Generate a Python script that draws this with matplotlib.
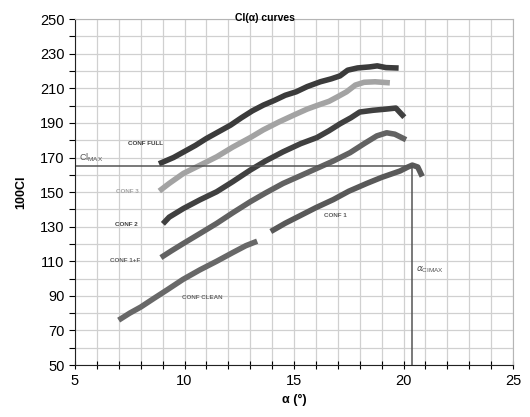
import numpy as np
import matplotlib.pyplot as plt
from matplotlib.ticker import MultipleLocator

plt.rcParams['font.family'] = ['Liberation Sans', 'DejaVu Sans']

# curves (alpha in deg, 100*Cl)
full_a = [8.95, 9.5, 10.0, 10.5, 11.0, 11.5, 12.1, 12.6, 13.1, 13.6, 14.1, 14.6, 15.1, 15.6, 16.2, 16.7, 17.1, 17.45, 17.9, 18.45, 18.8, 19.2, 19.65]
full_c = [167, 170, 173.5, 177, 181, 184.5, 188.7, 193, 197, 200.3, 203, 206, 208, 211, 213.8, 215.5, 217.2, 220.5, 221.8, 222.4, 223, 222, 221.8]

c3_a = [8.95, 9.3, 9.95, 10.7, 11.47, 12.2, 13.0, 13.6, 14.3, 15.0, 15.6, 16.1, 16.6, 17.0, 17.4, 17.8, 18.2, 18.7, 19.25]
c3_c = [151.6, 155, 160.8, 165.5, 170.4, 176, 181.5, 186, 190.5, 194.6, 198, 200.3, 202.5, 205.2, 208, 211.9, 213.5, 213.8, 213.3]

c2_a = [9.1, 9.3, 9.95, 10.7, 11.47, 12.2, 13.0, 13.7, 14.5, 15.3, 16.04, 16.6, 17.1, 17.6, 18.0, 18.6, 19.2, 19.65, 19.95]
c2_c = [132.8, 135.5, 140.5, 145.5, 150.2, 156, 162.7, 168, 173.3, 178, 181.5, 185.5, 189.5, 193, 196.3, 197.3, 198, 198.6, 194.5]

c1f_a = [9.03, 9.4, 9.95, 10.7, 11.47, 12.2, 13.0, 13.7, 14.5, 15.3, 16.04, 16.8, 17.56, 18.2, 18.78, 19.23, 19.6, 20.0]
c1f_c = [113, 116, 120.3, 126, 131.9, 138, 144.4, 149.5, 155, 159.5, 163.7, 168, 172.8, 178, 182.5, 184.3, 183.5, 181]

c1_a = [14.05, 14.6, 15.27, 16.0, 16.8, 17.5, 18.32, 19.0, 19.84, 20.2, 20.4, 20.65, 20.8]
c1_c = [128, 132, 136.3, 141, 145.7, 150.5, 155, 158.5, 162.2, 164.5, 165.6, 164.5, 160.5]

clean_a = [7.1, 7.5, 8.0, 8.6, 9.2, 9.93, 10.7, 11.47, 12.2, 12.8, 13.2]
clean_c = [76.8, 80, 83.5, 88.5, 93.4, 99.5, 105, 110, 115, 119, 121]

cl_max = 165
a_clmax = 20.4

fig = plt.figure(figsize=(5.3, 4.17), dpi=100)
ax = fig.add_axes([0.1415, 0.1247, 0.8265, 0.8293])

ax.plot(full_a, full_c, color='#3b3b3b', lw=4)
ax.plot(c3_a, c3_c, color='#a3a3a3', lw=4)
ax.plot(c2_a, c2_c, color='#404040', lw=4)
ax.plot(c1f_a, c1f_c, color='#626262', lw=4)
ax.plot(c1_a, c1_c, color='#595959', lw=4)
ax.plot(clean_a, clean_c, color='#686868', lw=4)

# Cl max reference lines
ax.plot([5, a_clmax], [cl_max, cl_max], color='#555555', lw=1.1)
ax.plot([a_clmax, a_clmax], [50, cl_max], color='#555555', lw=1.1)

lab = dict(fontsize=4.5, fontweight='bold', ha='center', va='center')
ax.text(8.2, 178.3, 'CONF FULL', color='#3b3b3b', **lab)
ax.text(7.4, 150.6, 'CONF 3', color='#a3a3a3', **lab)
ax.text(7.35, 131.5, 'CONF 2', color='#404040', **lab)
ax.text(7.3, 110.7, 'CONF 1+F', color='#626262', **lab)
ax.text(10.8, 89.3, 'CONF CLEAN', color='#686868', **lab)
ax.text(16.9, 136.7, 'CONF 1', color='#595959', **lab)
ax.text(5.2, 166, r'Cl$_{\mathregular{MAX}}$', color='#555555', fontsize=6.5, ha='left', va='bottom')
ax.text(20.55, 105, r'$\alpha_{\mathregular{CIMAX}}$', color='#555555', fontsize=6.5, ha='left', va='center')

ax.set_xlim(5, 25)
ax.set_ylim(50, 250)
ax.xaxis.set_major_locator(MultipleLocator(5))
ax.xaxis.set_minor_locator(MultipleLocator(1))
ax.set_yticks(np.arange(50, 251, 20))
ax.set_yticks(np.arange(50, 251, 10), minor=True)
ax.grid(True, which='both', color='#d0d0d0', lw=0.9)
ax.set_axisbelow(True)
ax.tick_params(which='both', direction='out', length=4, width=0.8, labelsize=10.5)
ax.tick_params(axis='x', which='both', direction='inout', length=6)
for s in ['top', 'right']:
    ax.spines[s].set_color('#b5b5b5')
ax.spines['left'].set_color('#222222')
ax.spines['bottom'].set_color('#222222')

ax.set_xlabel('α (°)', fontsize=9, fontweight='bold', labelpad=4)
ax.set_ylabel('100Cl', fontsize=9, fontweight='bold', labelpad=9)
fig.text(0.5, 0.958, 'Cl(α) curves', fontsize=7.5, fontweight='bold', ha='center', va='center')

fig.savefig('out.png', dpi=100)
